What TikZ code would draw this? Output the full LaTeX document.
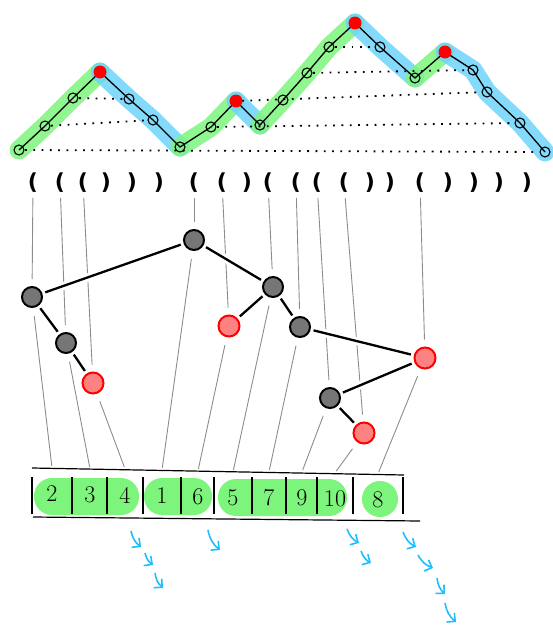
\documentclass[tikz,border=0pt]{standalone}
\usepackage{fontspec}
\usepackage{tikz}
\usetikzlibrary{positioning,shapes,arrows.meta}
\newfontfamily\handfont{DejaVu Sans}

\definecolor{hlgreen}{RGB}{125,245,125}
\definecolor{hlblue}{RGB}{110,212,250}
\definecolor{flowblue}{RGB}{30,190,255}
\definecolor{nodered}{RGB}{255,130,130}
\definecolor{nodegray}{RGB}{118,118,118}
\definecolor{threadgray}{RGB}{140,140,140}

\begin{document}
\begin{tikzpicture}[x=1pt,y=-1pt,
  upband/.style={hlgreen,line width=19pt,line cap=round,line join=round,opacity=0.85},
  downband/.style={hlblue,line width=19pt,line cap=round,line join=round,opacity=0.85},
  walk/.style={line width=1.3pt},
  vert/.style={draw,circle,inner sep=0pt,minimum size=10pt,line width=1.1pt},
  peak/.style={circle,fill=red,inner sep=0pt,minimum size=13pt},
  level/.style={line width=1.8pt,dash pattern=on 1.8pt off 6.5pt,shorten <=6pt,shorten >=6pt},
  paren/.style={font=\handfont\bfseries\fontsize{22}{22}\selectfont,inner sep=0pt},
  blk/.style={draw,circle,fill=nodegray,line width=2pt,minimum size=20pt,inner sep=0pt},
  red/.style={draw=red,circle,fill=nodered,line width=2pt,minimum size=21pt,inner sep=0pt},
  thread/.style={threadgray,line width=0.9pt},
  branch/.style={line width=2.3pt,shorten <=3pt,shorten >=3pt,
    preaction={draw,white,line width=8pt}},
  cell/.style={font=\fontsize{24}{24}\selectfont,minimum height=52pt,inner sep=0pt},
  frame/.style={line width=1.2pt},
  flow/.style={flowblue,line width=1.6pt,-{Straight Barb[length=6pt,width=12pt]}}
]
\useasboundingbox (0,0) rectangle (553,626);

% the walk
\foreach \x/\y [count=\i from 0] in {19/150,45/126,73/98,100/72,129/99,153/120,
  180/147,211/127,236/101,260/125,283/100,307/73,329/47,355/23,380/47,
  415/78,445/52,473/70,487/92,520/123,545/152}
  \coordinate (v\i) at (\x,\y);

\draw[upband] (v0) -- (v1) -- (v2) -- (v3);
\draw[downband] (v3) -- (v4) -- (v5) -- (v6);
\draw[upband] (v6) -- (v7) -- (v8);
\draw[downband] (v8) -- (v9);
\draw[upband] (v9) -- (v10) -- (v11) -- (v12) -- (v13);
\draw[downband] (v13) -- (v14) -- (v15);
\draw[upband] (v15) -- (v16);
\draw[downband] (v16) -- (v17) -- (v18) -- (v19) -- (v20);

\draw[level] (v0) -- (v20);
\draw[level] (v1) -- (v5);
\draw[level] (v7) -- (v19);
\draw[level] (v2) -- (v4);
\draw[level] (v8) -- (v18);
\draw[level] (v11) -- (v17);
\draw[level] (v12) -- (v14);

\draw[walk] (v0) \foreach \i in {1,...,20} { -- (v\i) };
\foreach \i in {0,1,2,4,5,6,7,9,10,11,12,14,15,17,18,19,20}
  \node[vert] (o\i) at (v\i) {};
\foreach \i in {3,8,13,16}
  \node[peak] (pk\i) at (v\i) {};

% brackets
\foreach \x/\s [count=\i] in {33/o,60/o,83/o,106/c,132/c,159/c,194/o,222/o,247/c,268/o,
  296/o,317/o,344/o,370/c,390/c,420/o,448/c,474/c,499/c,527/c}
  \node[paren] (p\i) at (\x,183) {\if\s o(\else)\fi};

% tree
\node[blk] (root) at (194,240) {};
\node[blk] (A) at (32,297) {};
\node[blk] (B) at (66,343) {};
\node[red] (C) at (93,383) {};
\node[blk] (D) at (273,287) {};
\node[red] (E) at (229,326) {};
\node[blk] (F) at (300,327) {};
\node[red] (G) at (425,358) {};
\node[blk] (H) at (330,398) {};
\node[red] (I) at (364,433) {};

% array
\fill[hlgreen,rounded corners=18pt] (34,478) rectangle (139,515);
\fill[hlgreen,rounded corners=18pt] (144,478) rectangle (212,515);
\fill[hlgreen,rounded corners=18pt] (218,479) rectangle (347,516);
\fill[hlgreen] (380,499) circle (18pt);

\node[cell] (c2) at (52,494) {2};
\node[cell] (c3) at (90,495) {3};
\node[cell] (c4) at (125,495) {4};
\node[cell] (c1) at (162,496) {1};
\node[cell] (c6) at (198,497) {6};
\node[cell] (c5) at (233,498) {5};
\node[cell] (c7) at (269,498) {7};
\node[cell] (c9) at (302,498) {9};
\node[cell] (c10) at (335,499) {10};
\node[cell] (c8) at (378,500) {8};

\draw[frame] (32,468) -- (404,475);
\draw[frame] (33,517) -- (420,521);
\foreach \x in {32,72,107,143,181,214,252,286,317,353,403}
  \draw[frame] (\x,477) -- (\x,514);

% threads
\foreach \a/\b/\c in {p1/A/c2,p2/B/c3,p3/C/c4,p7/root/c1,p8/E/c6,
  p10/D/c5,p11/F/c7,p12/H/c9,p13/I/c10,p16/G/c8} {
  \draw[thread,shorten <=5pt,shorten >=7pt] (\a) -- (\b);
  \draw[thread,shorten <=8pt,shorten >=2pt] (\b) -- (\c.north);
}

\draw[branch] (root) -- (A);
\draw[branch] (root) -- (D);
\draw[branch] (A) -- (B);
\draw[branch] (B) -- (C);
\draw[branch] (D) -- (E);
\draw[branch] (D) -- (F);
\draw[branch] (F) -- (G);
\draw[branch] (G) -- (H);
\draw[branch] (H) -- (I);

% moves
\foreach \sx/\sy/\ex/\ey [count=\i] in {131/531/141/547,145/553/153/565,155/573/163/588,
  208/530/220/550,347/529/359/543,361/551/371/563,403/532/416/547,
  418/555/433/568,437/578/445/594,445/603/456/622} {
  \coordinate (fs\i) at (\sx,\sy);
  \coordinate (fe\i) at (\ex,\ey);
  \draw[flow] (fs\i) to[bend right=20] (fe\i);
}
\end{tikzpicture}
\end{document}
